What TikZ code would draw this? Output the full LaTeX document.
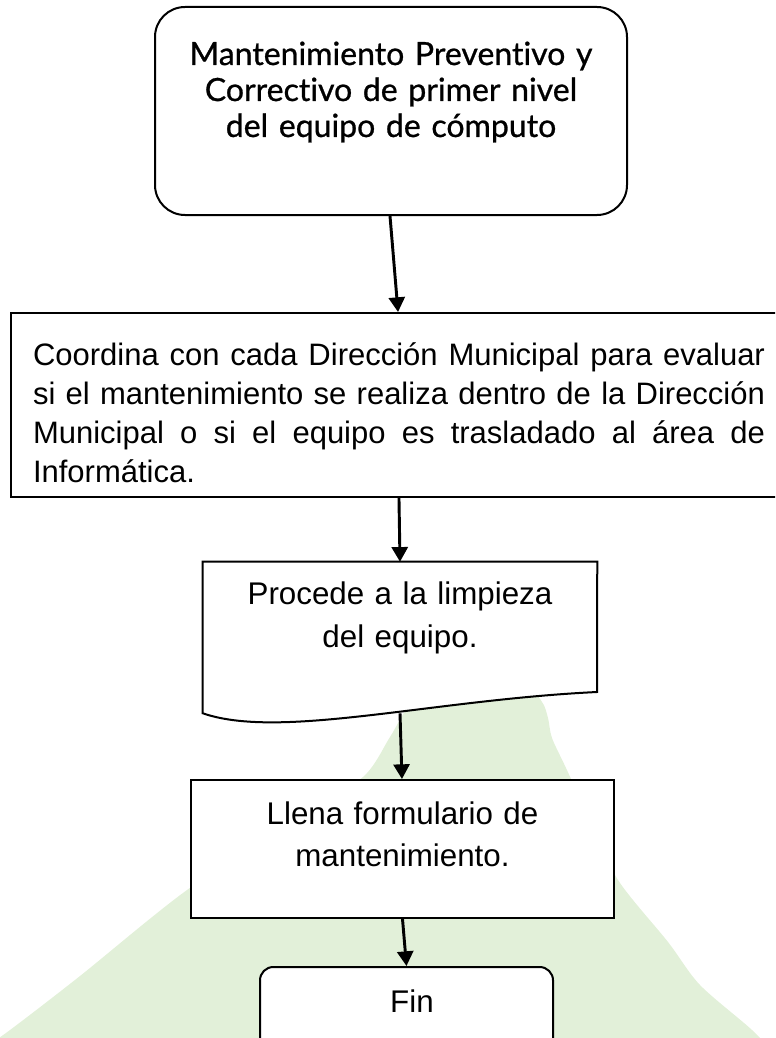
\documentclass[tikz,border=0pt]{standalone}
\usepackage{fontspec}
\setmainfont{Liberation Sans}
\newfontfamily\titlefont[Ligatures={NoCommon},FakeBold=0.8]{Lato}
\usetikzlibrary{arrows.meta}
\definecolor{bggreen}{RGB}{226,240,217}
\tikzset{
  boxline/.style={draw=black, line width=1.5pt, fill=white, inner sep=0pt},
  arr/.style={line width=2.2pt, -{Triangle[width=12pt,length=11pt]}, shorten >=0pt},
  txt/.style={inner sep=0pt, outer sep=0pt}
}
\begin{document}
\begin{tikzpicture}[x=0.75pt,y=-0.75pt]
\useasboundingbox (0,0) rectangle (775,1038);
\begin{scope}
\clip (0,0) rectangle (775,1038);
% background shape
\fill[bggreen] (-40,1060) -- plot[smooth] coordinates {(-30,1058) (10,1030) (80,976) (187,890) (300,817) (363,777) (390,737) (410,705) (440,690) (525,690) (542,702) (548,718) (552,738) (566,768) (590,820) (618,880) (668,942) (700,985) (752,1030) (780,1060)} -- cycle;

% top rounded box
\node[boxline, rounded corners=22.5pt, minimum width=354pt, minimum height=156pt] (top) at (391,111) {};
\node[txt, anchor=base, text width=340pt, align=center, font=\titlefont\fontsize{24}{27}\selectfont] (toptxt) at (391,65)
  {Mantenimiento Preventivo y\\Correctivo de primer nivel\\del equipo de cómputo};

% box 2
\node[boxline, minimum width=576.75pt, minimum height=138pt] (b2) at (395.5,405) {};
\node[txt, anchor=base west, text width=549pt, align=justify, font=\fontsize{23.25}{29.25}\selectfont] (b2txt) at (33,365)
  {\hyphenpenalty=10000 Coordina con cada Dirección Municipal para evaluar\linebreak si el mantenimiento se realiza dentro de la Dirección\linebreak Municipal o si el equipo es trasladado al área de\linebreak Informática.};

% box 3 (document shape)
\node[inner sep=0pt, minimum width=295.5pt, minimum height=113.25pt] (b3) at (400,637.5) {};
\draw[line width=1.5pt, fill=white] (b3.south west) -- (b3.north west) -- (b3.north east) -- (597,692)
  .. controls (430,700) and (280,740) .. (b3.south west) -- cycle;
\node[txt, anchor=base, text width=290pt, align=center, font=\fontsize{23.5}{32.25}\selectfont] (b3txt) at (400,604)
  {Procede a la limpieza\\del equipo.};

% box 4
\node[boxline, minimum width=317.25pt, minimum height=103.5pt] (b4) at (402.5,849) {};
\node[txt, anchor=base, text width=300pt, align=center, font=\fontsize{23.5}{31.5}\selectfont] (b4txt) at (402.5,824)
  {Llena formulario de\\mantenimiento.};

% Fin
\node[boxline, rounded corners=10pt, minimum width=219.75pt, minimum height=69.75pt] (fin) at (406.5,1013.5) {};
\node[txt, anchor=base, font=\fontsize{23.5}{28}\selectfont] (fintxt) at (412,1012) {Fin};
\end{scope}

% connectors
\draw[arr] ([xshift=-0.75pt]top.south) -- ([xshift=1.9pt]b2.north);
\draw[arr] ([xshift=2.6pt]b2.south) -- (b3.north);
\draw[arr] (b3.south) -- ([xshift=-0.4pt]b4.north);
\draw[arr] (b4.south) -- (fin.north);
\end{tikzpicture}
\end{document}
